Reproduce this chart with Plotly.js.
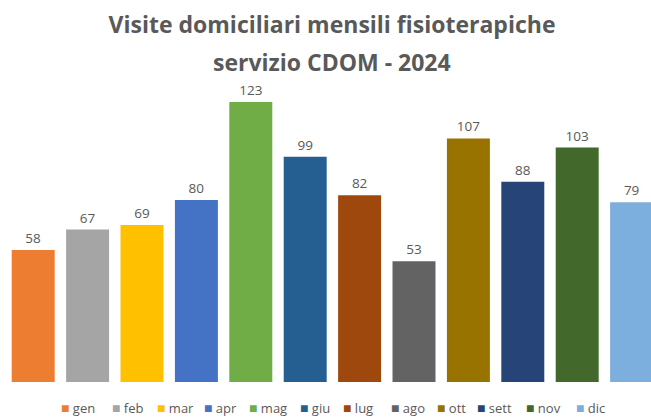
<!DOCTYPE html>
<html><head><meta charset="utf-8">
<script src="https://cdn.plot.ly/plotly-3.0.1.min.js"></script>
<style>html,body{margin:0;padding:0;background:#fff;}#chart{width:651px;height:418px;}</style>
</head><body><div id="chart"></div>
<script>
const months = ["gen","feb","mar","apr","mag","giu","lug","ago","ott","sett","nov","dic"];
const values = [58,67,69,80,123,99,82,53,107,88,103,79];
const colors = ["#ED7D31","#A5A5A5","#FFC000","#4472C4","#70AD47","#255E91","#9E480E","#636363","#997300","#264478","#43682B","#7CAFDD"];
const titleLine1 = "Visite domiciliari mensili fisioterapiche";
const titleLine2 = "servizio CDOM - 2024";
const legendPx = [62,113,158,205,250,301,344,392,438,478,527,577];

const W = 651, H = 418, ML = 6, MR = 0, MT = 70, MB = 36;
const pw = W - ML - MR, ph = H - MT - MB;
const font = "Open Sans, Liberation Sans, sans-serif";
const grey = "#595959";

const traces = months.map((m, i) => ({
  type: "bar", name: m, x: [m], y: [values[i]], text: [String(values[i])],
  textposition: "outside", cliponaxis: false,
  textfont: {family: font, size: 13.5, color: grey},
  marker: {color: colors[i]}, width: 0.79, showlegend: false,
  hoverinfo: "x+y"
}));

const annotations = [{
  text: "<b>" + titleLine2 + "</b>", xref: "paper", yref: "paper",
  x: (332 - ML) / pw, y: (H - MB - 62) / ph, xanchor: "center", yanchor: "middle",
  showarrow: false, font: {family: font, size: 23, color: grey}
}];
months.forEach((m, i) => {
  annotations.push({
    text: '<span style="color:' + colors[i] + ';font-size:14px">■</span> ' + m,
    xref: "paper", yref: "paper",
    x: (legendPx[i] - 2 - ML) / pw, y: -(407.5 - (H - MB)) / ph,
    xanchor: "left", yanchor: "middle", showarrow: false, borderpad: 0,
    font: {family: font, size: 13, color: grey}
  });
});

const layout = {
  width: W, height: H,
  margin: {l: ML, r: MR, t: MT, b: MB, pad: 0},
  paper_bgcolor: "#fff", plot_bgcolor: "#fff",
  barmode: "overlay",
  title: {text: "<b>" + titleLine1 + "</b>", x: 332 / W, xanchor: "center",
          y: 1 - 25 / H, yanchor: "middle", xref: "container", yref: "container",
          font: {family: font, size: 23, color: grey}},
  xaxis: {type: "category", range: [-0.5, -0.5 + pw / 54.4], showticklabels: false,
          showgrid: false, zeroline: false, showline: false, ticks: "", fixedrange: true},
  yaxis: {range: [0, ph / 2.276], showticklabels: false, showgrid: false,
          zeroline: false, showline: false, ticks: "", fixedrange: true},
  showlegend: false,
  annotations: annotations
};
Plotly.newPlot("chart", traces, layout, {displayModeBar: false, staticPlot: true});
</script>
</body></html>
